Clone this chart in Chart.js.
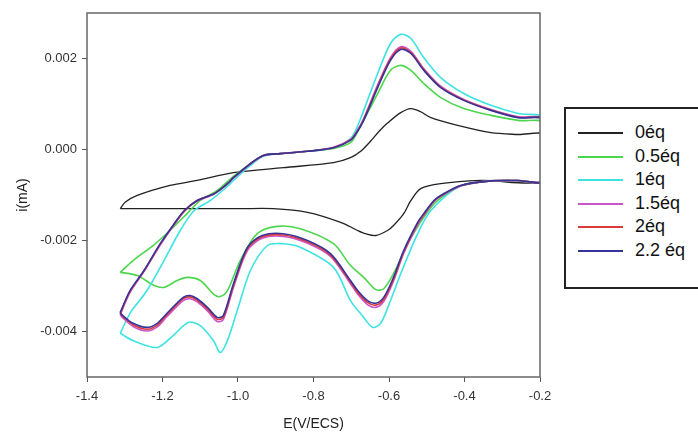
<!DOCTYPE html>
<html>
<head>
<meta charset="utf-8">
<script src="https://cdn.jsdelivr.net/npm/chart.js@4.4.1/dist/chart.umd.min.js"></script>
<style>
  body { margin: 0; background: #fff; font-family: "Liberation Sans", Arial, sans-serif; }
  #contenedor { position: relative; width: 698px; height: 437px; }
  #leyenda {
    position: absolute; left: 564px; top: 107px; width: 140px; height: 166px;
    border: 2px solid #222; background: #fff; padding-top: 12px; box-sizing: content-box;
  }
  .fila { height: 23.5px; line-height: 23.5px; font-size: 18px; color: #111; white-space: nowrap; }
  .linea { display: inline-block; width: 45px; height: 2px; margin-left: 12px; margin-right: 12px; vertical-align: middle; }
</style>
</head>
<body>
<div id="contenedor">
  <canvas id="voltametria" width="698" height="437"></canvas>
  <div id="leyenda"></div>
</div>
<script>
// ticks
let ticksX = [-1.4, -1.2, -1.0, -0.8, -0.6, -0.4, -0.2];
let etiquetasX = ["-1.4", "-1.2", "-1.0", "-0.8", "-0.6", "-0.4", "-0.2"];
let ticksY = [-0.004, -0.002, 0, 0.002];
let etiquetasY = ["-0.004", "-0.002", "0.000", "0.002"];

// series
let etiquetas = ["0éq", "0.5éq", "1éq", "1.5éq", "2éq", "2.2 éq"];
let colores = ["#222222", "#4cd64c", "#3de3e3", "#cc55cc", "#dd3b3b", "#34349a"];

// 0 éq
let potencial0 = [-1.312, -1.299, -1.267, -1.180, -1.108, -1.012, -0.880, -0.747, -0.702, -0.675, -0.649, -0.626, -0.604, -0.569, -0.542, -0.516, -0.489, -0.418, -0.330, -0.258, -0.185,
  -0.185, -0.357, -0.463, -0.516, -0.542, -0.561, -0.588, -0.604, -0.635, -0.662, -0.683, -0.728, -0.816, -0.906, -0.994, -1.153, -1.312];
let corriente0 = [-0.00130, -0.00116, -0.00101, -0.00079, -0.00068, -0.00051, -0.00040, -0.00029, -0.00018, -0.00004, 0.00018, 0.00040, 0.00058, 0.00081, 0.00090, 0.00083, 0.00070, 0.00053, 0.00037, 0.00033, 0.00031,
  -0.00066, -0.00068, -0.00075, -0.00086, -0.00112, -0.00141, -0.00167, -0.00178, -0.00189, -0.00185, -0.00178, -0.00160, -0.00138, -0.00130, -0.00130, -0.00130, -0.00130];

// 0.5 éq
let potencial05 = [-1.312, -1.278, -1.225, -1.180, -1.135, -1.100, -1.055, -1.012, -0.967, -0.933, -0.888, -0.816, -0.747, -0.702, -0.685, -0.667, -0.630, -0.596, -0.569, -0.542, -0.508, -0.463, -0.402, -0.330, -0.258, -0.185,
  -0.185, -0.260, -0.330, -0.410, -0.471, -0.508, -0.550, -0.588, -0.614, -0.635, -0.667, -0.702, -0.747, -0.835, -0.896, -0.949, -0.994, -1.028, -1.047, -1.063, -1.100, -1.135, -1.161, -1.196, -1.222, -1.267, -1.312];
let corriente05 = [-0.00270, -0.00244, -0.00211, -0.00178, -0.00141, -0.00112, -0.00090, -0.00059, -0.00031, -0.00013, -0.00009, -0.00004, 0.00002, 0.00015, 0.00036, 0.00064, 0.00123, 0.00174, 0.00185, 0.00174, 0.00145, 0.00114, 0.00090, 0.00075, 0.00064, 0.00057,
  -0.00068, -0.00068, -0.00069, -0.00080, -0.00112, -0.00149, -0.00207, -0.00273, -0.00306, -0.00308, -0.00281, -0.00255, -0.00207, -0.00174, -0.00169, -0.00185, -0.00244, -0.00310, -0.00323, -0.00319, -0.00288, -0.00281, -0.00288, -0.00303, -0.00299, -0.00277, -0.00270];

// 1 éq
let potencial1 = [-1.312, -1.286, -1.241, -1.196, -1.153, -1.116, -1.073, -1.028, -1.012, -0.967, -0.933, -0.888, -0.816, -0.747, -0.702, -0.685, -0.667, -0.630, -0.596, -0.569, -0.542, -0.508, -0.463, -0.402, -0.330, -0.258, -0.185,
  -0.185, -0.260, -0.330, -0.410, -0.489, -0.524, -0.569, -0.596, -0.622, -0.643, -0.667, -0.702, -0.747, -0.835, -0.880, -0.922, -0.967, -1.002, -1.028, -1.047, -1.065, -1.100, -1.132, -1.172, -1.214, -1.278, -1.312];
let corriente1 = [-0.00404, -0.00360, -0.00310, -0.00244, -0.00178, -0.00134, -0.00112, -0.00081, -0.00068, -0.00035, -0.00015, -0.00009, -0.00004, 0.00004, 0.00024, 0.00048, 0.00086, 0.00167, 0.00233, 0.00253, 0.00244, 0.00202, 0.00158, 0.00123, 0.00097, 0.00079, 0.00068,
  -0.00068, -0.00068, -0.00069, -0.00080, -0.00134, -0.00185, -0.00273, -0.00332, -0.00382, -0.00391, -0.00369, -0.00332, -0.00259, -0.00215, -0.00207, -0.00211, -0.00266, -0.00354, -0.00420, -0.00446, -0.00420, -0.00387, -0.00380, -0.00409, -0.00435, -0.00420, -0.00404];

// 1.5, 2 y 2.2 éq (mismo barrido)
let potencialMezcla = [-1.312, -1.286, -1.249, -1.206, -1.169, -1.142, -1.108, -1.063, -1.028, -1.012, -0.967, -0.933, -0.888, -0.816, -0.747, -0.702, -0.685, -0.667, -0.630, -0.596, -0.569, -0.542, -0.508, -0.463, -0.402, -0.330, -0.258, -0.185,
  -0.185, -0.260, -0.330, -0.410, -0.463, -0.481, -0.508, -0.524, -0.561, -0.588, -0.614, -0.635, -0.657, -0.683, -0.702, -0.755, -0.816, -0.880, -0.936, -0.975, -1.012, -1.039, -1.055, -1.081, -1.108, -1.127, -1.145, -1.188, -1.214, -1.241, -1.278, -1.305, -1.312];
let corriente15 = [-0.00363, -0.00314, -0.00268, -0.00210, -0.00165, -0.00136, -0.00113, -0.00098, -0.00076, -0.00063, -0.00032, -0.00014, -0.00009, -0.00004, 0.00005, 0.00022, 0.00040, 0.00068, 0.00142, 0.00202, 0.00226, 0.00216, 0.00178, 0.00139, 0.00110, 0.00088, 0.00072, 0.00065,
  -0.00068, -0.00068, -0.00069, -0.00080, -0.00103, -0.00115, -0.00145, -0.00165, -0.00228, -0.00289, -0.00334, -0.00347, -0.00341, -0.00318, -0.00295, -0.00235, -0.00206, -0.00191, -0.00195, -0.00222, -0.00303, -0.00374, -0.00378, -0.00355, -0.00335, -0.00328, -0.00332, -0.00367, -0.00390, -0.00399, -0.00389, -0.00370, -0.00363];
let corriente2 = [-0.00360, -0.00312, -0.00267, -0.00208, -0.00164, -0.00135, -0.00112, -0.00097, -0.00075, -0.00062, -0.00031, -0.00013, -0.00009, -0.00004, 0.00004, 0.00021, 0.00039, 0.00066, 0.00139, 0.00199, 0.00223, 0.00213, 0.00176, 0.00137, 0.00109, 0.00087, 0.00071, 0.00064,
  -0.00068, -0.00068, -0.00069, -0.00079, -0.00102, -0.00113, -0.00143, -0.00162, -0.00225, -0.00285, -0.00329, -0.00342, -0.00336, -0.00314, -0.00291, -0.00232, -0.00203, -0.00188, -0.00192, -0.00218, -0.00299, -0.00369, -0.00373, -0.00351, -0.00331, -0.00324, -0.00328, -0.00363, -0.00386, -0.00395, -0.00385, -0.00367, -0.00360];
let corriente22 = [-0.00358, -0.00310, -0.00266, -0.00207, -0.00163, -0.00134, -0.00112, -0.00097, -0.00075, -0.00062, -0.00031, -0.00013, -0.00009, -0.00004, 0.00004, 0.00020, 0.00038, 0.00064, 0.00136, 0.00196, 0.00220, 0.00211, 0.00174, 0.00136, 0.00108, 0.00086, 0.00070, 0.00064,
  -0.00068, -0.00068, -0.00069, -0.00079, -0.00101, -0.00112, -0.00141, -0.00160, -0.00222, -0.00281, -0.00325, -0.00338, -0.00332, -0.00310, -0.00288, -0.00229, -0.00200, -0.00185, -0.00189, -0.00215, -0.00295, -0.00365, -0.00369, -0.00347, -0.00328, -0.00321, -0.00325, -0.00360, -0.00382, -0.00391, -0.00382, -0.00365, -0.00358];

let series = [
  [potencial0, corriente0],
  [potencial05, corriente05],
  [potencial1, corriente1],
  [potencialMezcla, corriente15],
  [potencialMezcla, corriente2],
  [potencialMezcla, corriente22],
];

let fuente = '"Liberation Sans", Arial, sans-serif';

function buscarEtiqueta(lista, etiquetasLista, valor) {
  let k = lista.findIndex((v) => Math.abs(v - valor) < 1e-7);
  return k >= 0 ? etiquetasLista[k] : "";
}

// marco del grafico
const marco = {
  id: "marco",
  afterDatasetsDraw(chart) {
    const { ctx, chartArea } = chart;
    ctx.save();
    ctx.strokeStyle = "#666";
    ctx.lineWidth = 1.5;
    ctx.strokeRect(Math.round(chartArea.left), Math.round(chartArea.top),
      Math.round(chartArea.right - chartArea.left), Math.round(chartArea.bottom - chartArea.top));
    ctx.restore();
  },
};

function crearGrafico() {
  let datasets = series.map((s, i) => ({
    label: etiquetas[i],
    data: s[0].map((x, j) => ({ x: x, y: s[1][j] })),
    borderColor: colores[i],
    borderWidth: i == 0 ? 1.3 : 1.6,
    showLine: true,
    pointRadius: 0,
    fill: false,
    tension: 0.3,
    order: series.length - i,
  }));

  let ctx = document.getElementById("voltametria").getContext("2d");
  new Chart(ctx, {
    type: "scatter",
    data: { datasets: datasets },
    plugins: [marco],
    options: {
      responsive: false,
      animation: false,
      layout: { padding: { left: 0, top: 13, right: 158, bottom: 0 } },
      plugins: { legend: { display: false }, tooltip: { enabled: false } },
      scales: {
        x: {
          type: "linear",
          min: -1.4,
          max: -0.2,
          afterBuildTicks: (scale) => { scale.ticks = ticksX.map((v) => ({ value: v })); },
          afterFit: (scale) => { scale.height = 60; },
          grid: { drawOnChartArea: false, drawTicks: true, tickLength: 5, color: "#555" },
          border: { display: false },
          ticks: {
            padding: 7,
            color: "#333",
            font: { family: fuente, size: 13 },
            maxRotation: 0,
            autoSkip: false,
            callback: (v) => buscarEtiqueta(ticksX, etiquetasX, v),
          },
          title: { display: true, text: "E(V/ECS)", color: "#222", font: { family: fuente, size: 14 }, padding: { top: 0, bottom: 4 } },
        },
        y: {
          type: "linear",
          min: -0.005,
          max: 0.003,
          afterBuildTicks: (scale) => { scale.ticks = ticksY.map((v) => ({ value: v })); },
          afterFit: (scale) => { scale.width = 87; },
          grid: { drawOnChartArea: false, drawTicks: true, tickLength: 5, color: "#555" },
          border: { display: false },
          ticks: {
            padding: 5,
            color: "#333",
            font: { family: fuente, size: 13 },
            autoSkip: false,
            callback: (v) => buscarEtiqueta(ticksY, etiquetasY, v),
          },
          title: { display: true, text: "i(mA)", color: "#222", font: { family: fuente, size: 14 }, padding: { top: 15, bottom: 0 } },
        },
      },
    },
  });
}

function crearLeyenda() {
  let leyenda = document.getElementById("leyenda");
  etiquetas.forEach((et, i) => {
    let fila = document.createElement("div");
    fila.className = "fila";
    let linea = document.createElement("span");
    linea.className = "linea";
    linea.style.background = colores[i];
    fila.appendChild(linea);
    fila.appendChild(document.createTextNode(et));
    leyenda.appendChild(fila);
  });
}

crearGrafico();
crearLeyenda();
</script>
</body>
</html>
